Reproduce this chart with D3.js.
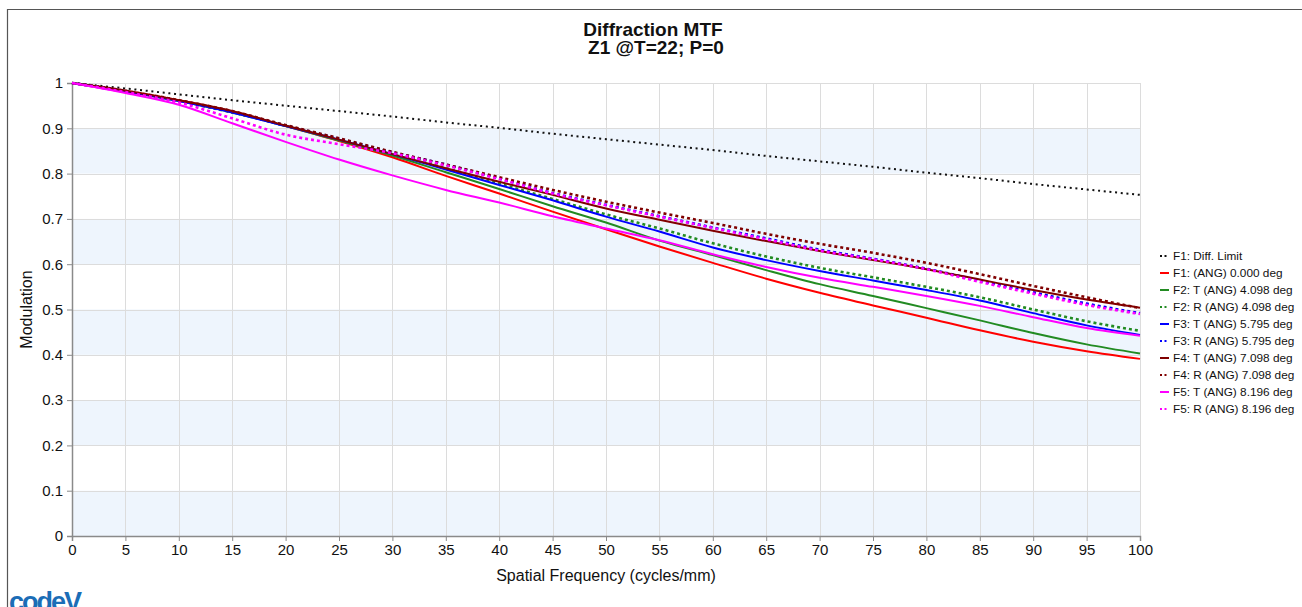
<!DOCTYPE html>
<html>
<head>
<meta charset="utf-8">
<script src="https://cdn.jsdelivr.net/npm/d3@7"></script>
<style>
  html, body { margin: 0; padding: 0; background: #fff; }
  svg { display: block; font-family: Arial, "Liberation Sans", sans-serif; }
</style>
</head>
<body>
<svg width="1302" height="607"></svg>
<script>
// spatial frequency samples (cycles/mm)
const freqs = [0, 5, 10, 15, 20, 25, 30, 35, 40, 45, 50, 55, 60, 65, 70, 75, 80, 85, 90, 95, 100];

// modulation
const diffLimit = [1, 0.988, 0.975, 0.962, 0.950, 0.938, 0.926, 0.913, 0.901, 0.888, 0.876, 0.864, 0.852, 0.839, 0.827, 0.815, 0.802, 0.790, 0.777, 0.765, 0.753];
const f1Ang = [1, 0.983, 0.962, 0.937, 0.905, 0.872, 0.836, 0.795, 0.756, 0.716, 0.677, 0.639, 0.603, 0.568, 0.537, 0.509, 0.482, 0.454, 0.429, 0.408, 0.391];
const f2T = [1, 0.982, 0.960, 0.935, 0.905, 0.873, 0.840, 0.803, 0.766, 0.728, 0.692, 0.652, 0.620, 0.587, 0.556, 0.530, 0.503, 0.476, 0.448, 0.423, 0.403];
const f2R = [1, 0.982, 0.960, 0.935, 0.906, 0.876, 0.845, 0.812, 0.778, 0.744, 0.710, 0.679, 0.646, 0.617, 0.592, 0.571, 0.550, 0.527, 0.500, 0.474, 0.453];
const f3T = [1, 0.982, 0.960, 0.935, 0.905, 0.875, 0.843, 0.809, 0.775, 0.741, 0.705, 0.672, 0.637, 0.609, 0.585, 0.564, 0.543, 0.520, 0.492, 0.465, 0.444];
const f3R = [1, 0.982, 0.960, 0.936, 0.906, 0.877, 0.847, 0.820, 0.789, 0.757, 0.731, 0.706, 0.681, 0.657, 0.632, 0.612, 0.590, 0.564, 0.538, 0.513, 0.492];
const f4T = [1, 0.983, 0.962, 0.938, 0.906, 0.875, 0.843, 0.812, 0.782, 0.753, 0.723, 0.698, 0.674, 0.651, 0.629, 0.609, 0.589, 0.566, 0.543, 0.522, 0.504];
const f4R = [1, 0.983, 0.962, 0.938, 0.907, 0.878, 0.848, 0.820, 0.792, 0.764, 0.738, 0.714, 0.691, 0.667, 0.645, 0.625, 0.603, 0.578, 0.552, 0.527, 0.503];
const f5T = [1, 0.978, 0.952, 0.911, 0.870, 0.831, 0.796, 0.764, 0.736, 0.706, 0.679, 0.653, 0.622, 0.594, 0.570, 0.550, 0.530, 0.508, 0.483, 0.459, 0.442];
const f5R = [1, 0.980, 0.957, 0.922, 0.886, 0.865, 0.845, 0.818, 0.788, 0.756, 0.730, 0.705, 0.680, 0.655, 0.630, 0.611, 0.589, 0.561, 0.535, 0.510, 0.490];

const seriesNames = [
  "F1: Diff. Limit",
  "F1: (ANG) 0.000 deg",
  "F2: T (ANG) 4.098 deg",
  "F2: R (ANG) 4.098 deg",
  "F3: T (ANG) 5.795 deg",
  "F3: R (ANG) 5.795 deg",
  "F4: T (ANG) 7.098 deg",
  "F4: R (ANG) 7.098 deg",
  "F5: T (ANG) 8.196 deg",
  "F5: R (ANG) 8.196 deg"
];
const seriesValues = [diffLimit, f1Ang, f2T, f2R, f3T, f3R, f4T, f4R, f5T, f5R];

const xTicks = d3.range(0, 101, 5);
const yTicks = d3.range(0, 11).map(i => i / 10);

// styles per series
const colors = ["#111", "#ff0000", "#228b22", "#228b22", "#0000ff", "#0000ff", "#800000", "#800000", "#ff00ff", "#ff00ff"];
const dashed = [true, false, false, true, false, true, false, true, false, true];

let svg = d3.select("svg");
let margin = { left: 72, right: 162, top: 83, bottom: 71 };
let width = 1302;
let height = 607;

let x = d3.scaleLinear().domain([0, 100]).range([margin.left, width - margin.right]);
let y = d3.scaleLinear().domain([0, 1]).range([height - margin.bottom, margin.top]);

// outer frame
svg.append("path")
  .attr("d", `M7.5,${height} V9.5 H${width}`)
  .attr("fill", "none")
  .attr("stroke", "#555")
  .attr("stroke-width", 1.2);

// title
let title = svg.append("text")
  .attr("text-anchor", "middle")
  .style("font-weight", "bold")
  .style("font-size", "19px")
  .attr("fill", "#111");
title.append("tspan").attr("x", 653).attr("y", 36).text("Diffraction MTF");
title.append("tspan").attr("x", 656).attr("y", 54).text("Z1 @T=22; P=0");

// alternating bands
svg.append("g")
  .selectAll("rect")
  .data(yTicks.slice(0, 10).filter((d, i) => i % 2 === 0))
  .enter()
  .append("rect")
  .attr("x", x(0))
  .attr("width", x(100) - x(0))
  .attr("y", d => y(d + 0.1))
  .attr("height", d => y(d) - y(d + 0.1))
  .attr("fill", "#eef5fd");

// grid
let grid = svg.append("g").attr("stroke", "#dcdcdc").attr("stroke-width", 1);
grid.selectAll(".vg")
  .data(xTicks)
  .enter()
  .append("line")
  .attr("x1", d => Math.round(x(d)) + 0.5)
  .attr("x2", d => Math.round(x(d)) + 0.5)
  .attr("y1", y(1))
  .attr("y2", y(0));
grid.selectAll(".hg")
  .data(yTicks)
  .enter()
  .append("line")
  .attr("x1", x(0))
  .attr("x2", x(100))
  .attr("y1", d => Math.round(y(d)) + 0.5)
  .attr("y2", d => Math.round(y(d)) + 0.5);

// axes
let xAxis = svg.append("g")
  .attr("transform", `translate(0,${y(0)})`)
  .call(d3.axisBottom(x).tickValues(xTicks).tickSize(5).tickPadding(3).tickFormat(d3.format("d")));
let yAxis = svg.append("g")
  .attr("transform", `translate(${x(0)},0)`)
  .call(d3.axisLeft(y).tickValues(yTicks).tickSize(5).tickPadding(4).tickFormat(d => String(+d.toFixed(1))));

[xAxis, yAxis].forEach(a => {
  a.select(".domain").attr("stroke", "#8a8a8a").attr("stroke-width", 1.5);
  a.selectAll(".tick line").attr("stroke", "#8a8a8a");
  a.selectAll(".tick text")
    .attr("fill", "#111")
    .style("font-size", "15px")
    .style("font-family", "Arial, 'Liberation Sans', sans-serif");
});

// axis labels
svg.append("text")
  .attr("x", x(50))
  .attr("y", 581)
  .attr("text-anchor", "middle")
  .style("font-size", "16px")
  .attr("fill", "#111")
  .text("Spatial Frequency (cycles/mm)");

svg.append("text")
  .attr("transform", `translate(32,${y(0.5)}) rotate(-90)`)
  .attr("text-anchor", "middle")
  .style("font-size", "16px")
  .attr("fill", "#111")
  .text("Modulation");

// curves
let line = d3.line()
  .x((d, i) => x(freqs[i]))
  .y(d => y(d))
  .curve(d3.curveMonotoneX);

svg.append("g")
  .selectAll("path")
  .data(seriesValues)
  .enter()
  .append("path")
  .attr("d", d => line(d))
  .attr("fill", "none")
  .attr("stroke", (d, i) => colors[i])
  .attr("stroke-width", (d, i) => i === 0 ? 2 : (dashed[i] ? 2.6 : 2))
  .attr("stroke-dasharray", (d, i) => i === 0 ? "2,3.7" : (dashed[i] ? "3,3" : null));

// legend
let legend = svg.append("g")
  .attr("transform", "translate(1160,256)")
  .selectAll("g")
  .data(seriesNames)
  .enter()
  .append("g")
  .attr("transform", (d, i) => `translate(0,${i * 17})`);

legend.append("line")
  .attr("x1", 0)
  .attr("x2", 9)
  .attr("stroke", (d, i) => colors[i])
  .attr("stroke-width", 2)
  .attr("stroke-dasharray", (d, i) => dashed[i] ? "2,2.5" : null);

legend.append("text")
  .attr("x", 13)
  .attr("dy", "0.35em")
  .style("font-size", "11.8px")
  .attr("fill", "#111")
  .text(d => d);

// logo, cut off by the bottom edge
svg.append("text")
  .attr("x", 9)
  .attr("y", 611)
  .style("font-size", "27px")
  .style("font-weight", "bold")
  .style("letter-spacing", "-2px")
  .attr("fill", "#1b6db6")
  .text("codeV");
</script>
</body>
</html>
